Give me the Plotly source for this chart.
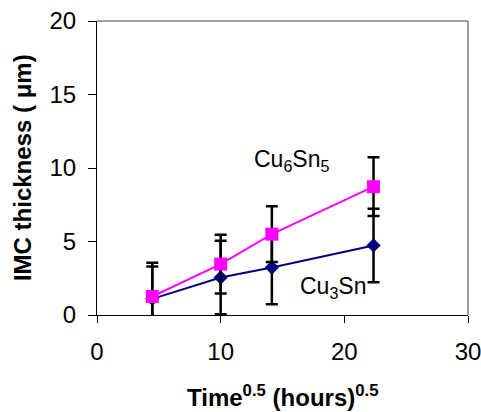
import plotly.graph_objects as go

# Data
time_sqrt = [4.47, 10.0, 14.14, 22.36]
cu6sn5 = [1.26, 3.46, 5.5, 8.73]
cu6sn5_err = [2.3, 2.0, 1.9, 2.0]
cu3sn = [1.1, 2.55, 3.23, 4.73]
cu3sn_err = [2.2, 2.5, 2.5, 2.5]

x_ticks = [0, 10, 20, 30]
y_ticks = [0, 5, 10, 15, 20]

FONT = "Liberation Sans, Arial, sans-serif"

fig = go.Figure()

fig.add_trace(go.Scatter(
    x=time_sqrt, y=cu3sn, mode="lines+markers", name="Cu3Sn",
    line=dict(color="#000080", width=2),
    marker=dict(symbol="diamond", size=11, color="#000080"),
    error_y=dict(type="data", array=cu3sn_err, visible=True,
                 color="black", thickness=2.5, width=6),
))
fig.add_trace(go.Scatter(
    x=time_sqrt, y=cu6sn5, mode="lines+markers", name="Cu6Sn5",
    line=dict(color="#FF00FF", width=2),
    marker=dict(symbol="square", size=13, color="#FF00FF"),
    error_y=dict(type="data", array=cu6sn5_err, visible=True,
                 color="black", thickness=2.5, width=6),
))

fig.add_annotation(x=15.8, y=10.5, text="Cu<sub>6</sub>Sn<sub>5</sub>",
                   showarrow=False, font=dict(family=FONT, size=23, color="black"))
fig.add_annotation(x=19.1, y=1.9, text="Cu<sub>3</sub>Sn",
                   showarrow=False, font=dict(family=FONT, size=23, color="black"))

# axis titles
fig.add_annotation(xref="paper", yref="paper", x=-0.202, y=0.5,
                   text="<b>IMC thickness ( μm)</b>", textangle=-90,
                   showarrow=False, xanchor="center", yanchor="middle",
                   font=dict(family=FONT, size=24, color="black"))
fig.add_annotation(xref="paper", yref="paper", x=0.5, y=-0.275,
                   text="<b>Time<sup>0.5</sup> (hours)<sup>0.5</sup></b>",
                   showarrow=False, xanchor="center", yanchor="middle",
                   font=dict(family=FONT, size=24, color="black"))

# grey top/right frame
fig.add_shape(type="line", xref="paper", yref="paper", x0=0, x1=1, y0=1, y1=1,
              line=dict(color="#808080", width=1.5))
fig.add_shape(type="line", xref="paper", yref="paper", x0=1, x1=1, y0=0, y1=1,
              line=dict(color="#808080", width=1.5))

fig.update_layout(
    width=481, height=412,
    margin=dict(l=97, r=13, t=21, b=97),
    paper_bgcolor="white", plot_bgcolor="white",
    showlegend=False,
    font=dict(family=FONT, color="black"),
)
fig.update_xaxes(
    range=[0, 30], tickvals=x_ticks, ticktext=[str(v) for v in x_ticks],
    showgrid=False, zeroline=False, showline=True, linecolor="black", linewidth=1.2,
    ticks="outside", ticklen=7, tickcolor="black", tickwidth=1.2,
    tickfont=dict(size=24, family=FONT), ticklabelstandoff=8,
    automargin=False, ticklabeloverflow="allow",
)
fig.update_yaxes(
    range=[0, 20], tickvals=y_ticks, ticktext=[str(v) for v in y_ticks],
    showgrid=False, zeroline=False, showline=True, linecolor="black", linewidth=1.2,
    ticks="outside", ticklen=8, tickcolor="black", tickwidth=1.2,
    tickfont=dict(size=24, family=FONT), ticklabelstandoff=7,
    automargin=False, ticklabeloverflow="allow",
)

# remove the page's default body margin so the 481x412 figure fills the window exactly
fig.write_html("out.html",
               config={"displayModeBar": False},
               post_script="document.body.style.margin='0';document.body.style.overflow='hidden';")
